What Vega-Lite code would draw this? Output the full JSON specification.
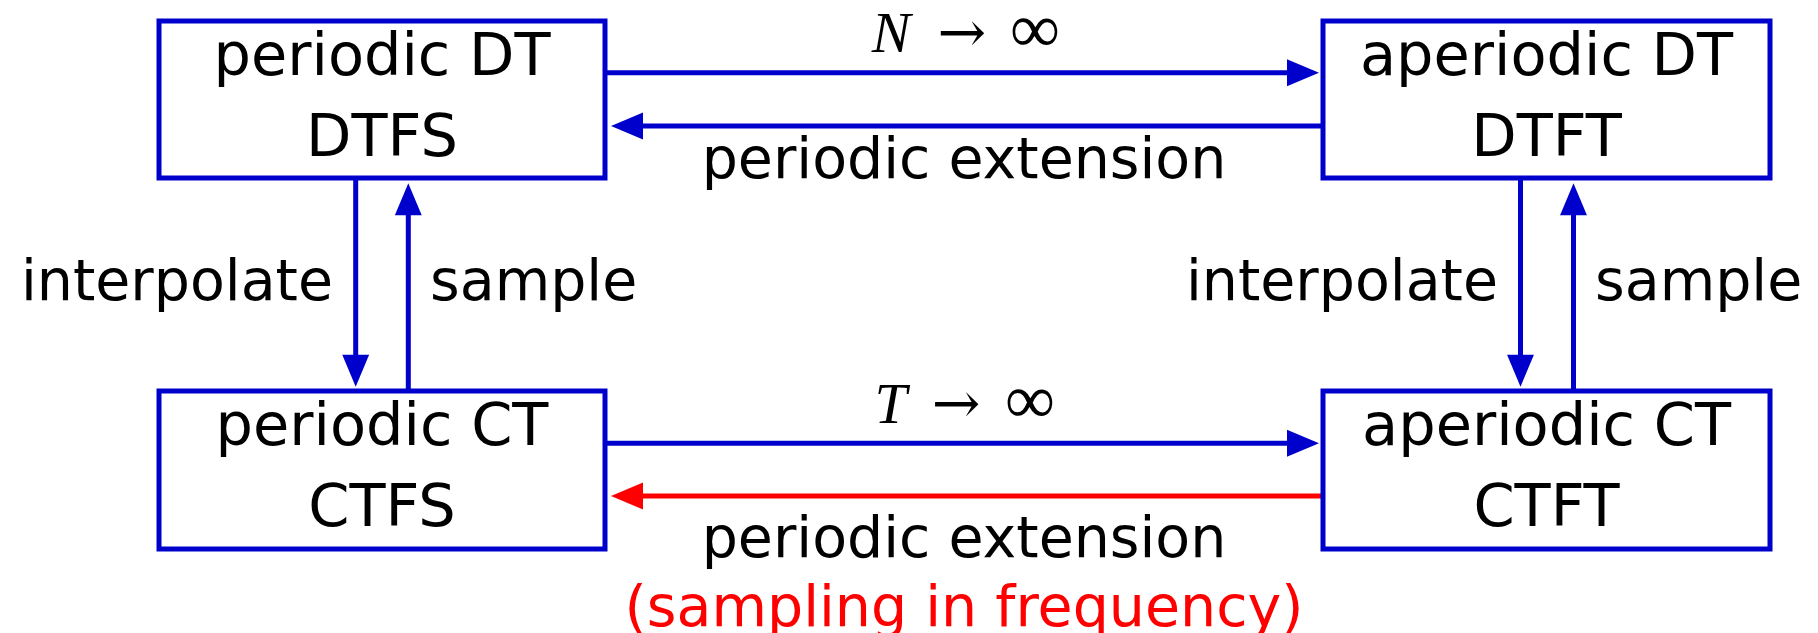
{
  "$schema": "https://vega.github.io/schema/vega-lite/v6.json",
  "width": 1818,
  "height": 633,
  "padding": 0,
  "autosize": "none",
  "background": "white",
  "config": {"view": {"stroke": null}},
  "datasets": {
    "boxes": [
      {"name": "DTFS", "x": 159, "x2": 605, "y": 21, "y2": 178},
      {"name": "DTFT", "x": 1323, "x2": 1770, "y": 21, "y2": 178},
      {"name": "CTFS", "x": 159, "x2": 605, "y": 391, "y2": 549},
      {"name": "CTFT", "x": 1323, "x2": 1770, "y": 391, "y2": 549}
    ],
    "shafts": [
      {"edge": "N to infinity", "tone": "main", "x": 605, "y": 72.7, "x2": 1292, "y2": 72.7},
      {"edge": "DT periodic extension", "tone": "main", "x": 1323, "y": 126, "x2": 638, "y2": 126},
      {"edge": "T to infinity", "tone": "main", "x": 605, "y": 443.3, "x2": 1292, "y2": 443.3},
      {"edge": "CT periodic extension", "tone": "sampling", "x": 1323, "y": 496, "x2": 638, "y2": 496},
      {"edge": "interpolate left", "tone": "main", "x": 355.7, "y": 178, "x2": 355.7, "y2": 360},
      {"edge": "sample left", "tone": "main", "x": 408.3, "y": 391, "x2": 408.3, "y2": 210},
      {"edge": "interpolate right", "tone": "main", "x": 1520.5, "y": 178, "x2": 1520.5, "y2": 360},
      {"edge": "sample right", "tone": "main", "x": 1573.5, "y": 391, "x2": 1573.5, "y2": 210}
    ],
    "heads": [
      {"edge": "N to infinity", "tone": "main", "dir": "right", "x": 1319, "y": 72.7},
      {"edge": "DT periodic extension", "tone": "main", "dir": "left", "x": 611, "y": 126},
      {"edge": "T to infinity", "tone": "main", "dir": "right", "x": 1319, "y": 443.3},
      {"edge": "CT periodic extension", "tone": "sampling", "dir": "left", "x": 611, "y": 496},
      {"edge": "interpolate left", "tone": "main", "dir": "down", "x": 355.7, "y": 386.7},
      {"edge": "sample left", "tone": "main", "dir": "up", "x": 408.3, "y": 183.3},
      {"edge": "interpolate right", "tone": "main", "dir": "down", "x": 1520.5, "y": 386.7},
      {"edge": "sample right", "tone": "main", "dir": "up", "x": 1573.5, "y": 183.3}
    ],
    "labels": [
      {"kind": "box", "text": "periodic DT", "x": 382, "y": 75},
      {"kind": "box", "text": "DTFS", "x": 382, "y": 155.7},
      {"kind": "box", "text": "aperiodic DT", "x": 1546.5, "y": 75},
      {"kind": "box", "text": "DTFT", "x": 1546.5, "y": 155.7},
      {"kind": "box", "text": "periodic CT", "x": 382, "y": 445},
      {"kind": "box", "text": "CTFS", "x": 382, "y": 525.5},
      {"kind": "box", "text": "aperiodic CT", "x": 1546.5, "y": 445},
      {"kind": "box", "text": "CTFT", "x": 1546.5, "y": 525.5},
      {"kind": "edge", "text": "periodic extension", "x": 964, "y": 178},
      {"kind": "edge", "text": "periodic extension", "x": 964, "y": 556.7},
      {"kind": "edge-red", "text": "(sampling in frequency)", "x": 964, "y": 626},
      {"kind": "right-label", "text": "interpolate", "x": 333, "y": 300},
      {"kind": "right-label", "text": "interpolate", "x": 1498, "y": 300},
      {"kind": "left-label", "text": "sample", "x": 430, "y": 300},
      {"kind": "left-label", "text": "sample", "x": 1595, "y": 300},
      {"kind": "math-var", "text": "N", "x": 891, "y": 51.7},
      {"kind": "math-arrow", "text": "→", "x": 961.7, "y": 51.7},
      {"kind": "math-inf", "text": "∞", "x": 1035, "y": 51.7},
      {"kind": "math-var", "text": "T", "x": 890.5, "y": 422.7},
      {"kind": "math-arrow", "text": "→", "x": 956, "y": 422.7},
      {"kind": "math-inf", "text": "∞", "x": 1030, "y": 422.7}
    ]
  },
  "encoding": {
    "x": {"field": "x", "type": "quantitative", "scale": {"domain": [0, 1818], "nice": false, "zero": false}, "axis": null},
    "y": {"field": "y", "type": "quantitative", "scale": {"domain": [0, 633], "reverse": true, "nice": false, "zero": false}, "axis": null}
  },
  "layer": [
    {
      "data": {"name": "shafts"},
      "mark": {"type": "rule", "strokeWidth": 5, "strokeCap": "butt"},
      "encoding": {
        "x2": {"field": "x2"},
        "y2": {"field": "y2"},
        "color": {"field": "tone", "type": "nominal", "scale": {"domain": ["main", "sampling"], "range": ["#0000CC", "#FF0000"]}, "legend": null}
      }
    },
    {
      "data": {"name": "heads"},
      "mark": {"type": "point", "filled": true, "size": 1024, "opacity": 1, "strokeWidth": 0},
      "encoding": {
        "shape": {"field": "dir", "type": "nominal", "scale": {"domain": ["right", "left", "up", "down"], "range": ["M0,0L-2,-0.84L-2,0.84Z", "M0,0L2,-0.84L2,0.84Z", "M0,0L-0.84,2L0.84,2Z", "M0,0L-0.84,-2L0.84,-2Z"]}, "legend": null},
        "color": {"field": "tone", "type": "nominal", "legend": null}
      }
    },
    {
      "data": {"name": "boxes"},
      "mark": {"type": "rect", "fill": "transparent", "stroke": "#0000CC", "strokeWidth": 5},
      "encoding": {
        "x2": {"field": "x2"},
        "y2": {"field": "y2"}
      }
    },
    {
      "data": {"name": "labels"},
      "transform": [{"filter": "datum.kind === 'box'"}],
      "mark": {"type": "text", "font": "DejaVu Sans", "fontSize": 59, "align": "center", "baseline": "alphabetic", "color": "black"},
      "encoding": {"text": {"field": "text"}}
    },
    {
      "data": {"name": "labels"},
      "transform": [{"filter": "datum.kind === 'edge'"}],
      "mark": {"type": "text", "font": "DejaVu Sans", "fontSize": 57, "align": "center", "baseline": "alphabetic", "color": "black"},
      "encoding": {"text": {"field": "text"}}
    },
    {
      "data": {"name": "labels"},
      "transform": [{"filter": "datum.kind === 'edge-red'"}],
      "mark": {"type": "text", "font": "DejaVu Sans", "fontSize": 57, "align": "center", "baseline": "alphabetic", "color": "#FF0000"},
      "encoding": {"text": {"field": "text"}}
    },
    {
      "data": {"name": "labels"},
      "transform": [{"filter": "datum.kind === 'right-label'"}],
      "mark": {"type": "text", "font": "DejaVu Sans", "fontSize": 57, "align": "right", "baseline": "alphabetic", "color": "black"},
      "encoding": {"text": {"field": "text"}}
    },
    {
      "data": {"name": "labels"},
      "transform": [{"filter": "datum.kind === 'left-label'"}],
      "mark": {"type": "text", "font": "DejaVu Sans", "fontSize": 57, "align": "left", "baseline": "alphabetic", "color": "black"},
      "encoding": {"text": {"field": "text"}}
    },
    {
      "data": {"name": "labels"},
      "transform": [{"filter": "datum.kind === 'math-var'"}],
      "mark": {"type": "text", "font": "Liberation Serif", "fontStyle": "italic", "fontSize": 58, "align": "center", "baseline": "alphabetic", "color": "black"},
      "encoding": {"text": {"field": "text"}}
    },
    {
      "data": {"name": "labels"},
      "transform": [{"filter": "datum.kind === 'math-arrow'"}],
      "mark": {"type": "text", "font": "DejaVu Serif", "fontSize": 58, "align": "center", "baseline": "alphabetic", "color": "black"},
      "encoding": {"text": {"field": "text"}}
    },
    {
      "data": {"name": "labels"},
      "transform": [{"filter": "datum.kind === 'math-inf'"}],
      "mark": {"type": "text", "font": "Liberation Serif", "fontSize": 70, "align": "center", "baseline": "alphabetic", "color": "black"},
      "encoding": {"text": {"field": "text"}}
    }
  ]
}
